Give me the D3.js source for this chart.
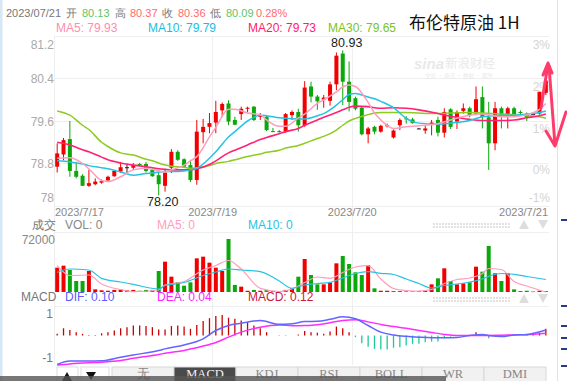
<!DOCTYPE html>
<html>
<head>
<meta charset="utf-8">
<script src="https://cdn.jsdelivr.net/npm/d3@7"></script>
<style>
body { margin: 0; background: #fff; }
svg { display: block; font-family: "Liberation Sans", Arial, sans-serif; }
</style>
</head>
<body>
<svg id="chart" width="567" height="381"></svg>
<script>
// hourly candles, 2023/7/17 - 2023/7/21
var openP = [
	78.74, 78.97, 79.26, 78.66, 78.57, 78.38, 78.41, 78.44, 78.48, 78.56,
	78.65, 78.73, 78.72, 78.79, 78.79, 78.68, 78.58, 78.38, 78.72, 79.02,
	78.88, 78.77, 78.49, 79.39, 79.49, 79.57, 79.80, 79.93, 79.62, 79.73,
	79.83, 79.87, 79.68, 79.68, 79.41, 79.41, 79.40, 79.71, 79.77, 79.52,
	80.25, 80.06, 80.00, 79.98, 80.29, 80.87, 80.34, 80.03, 79.85, 79.35,
	79.49, 79.40, 79.50, 79.29, 79.52, 79.65, 79.63, 79.46, 79.42, 79.54,
	79.62, 79.38, 79.82, 79.59, 79.79, 79.84, 79.74, 80.05, 79.67, 79.18,
	79.84, 79.69, 79.84, 79.77, 79.74, 79.73, 79.74, 80.13];
var highP = [
	79.18, 79.28, 79.60, 78.83, 78.60, 78.68, 78.52, 78.50, 78.57, 78.68,
	78.83, 78.80, 78.81, 78.81, 78.83, 78.72, 78.65, 78.70, 79.07, 79.05,
	78.90, 78.87, 79.62, 79.64, 79.75, 79.98, 79.95, 79.99, 79.68, 79.87,
	79.87, 79.88, 79.75, 79.70, 79.47, 79.43, 79.75, 79.80, 79.83, 80.35,
	80.34, 80.09, 80.09, 80.34, 80.89, 80.93, 80.72, 80.06, 79.88, 79.49,
	79.51, 79.53, 79.55, 79.44, 79.65, 79.69, 79.66, 79.47, 79.52, 79.62,
	79.68, 79.84, 79.84, 79.80, 79.93, 79.87, 80.25, 80.25, 79.96, 79.96,
	79.87, 79.87, 79.87, 79.80, 79.76, 79.74, 80.15, 80.37];
var lowP = [
	78.63, 78.86, 78.55, 78.52, 78.38, 78.36, 78.39, 78.42, 78.46, 78.55,
	78.62, 78.62, 78.68, 78.76, 78.63, 78.55, 78.20, 78.27, 78.62, 78.85,
	78.72, 78.45, 78.40, 79.18, 79.37, 79.37, 79.68, 79.52, 79.52, 79.62,
	79.76, 79.60, 79.62, 79.41, 79.39, 79.38, 79.38, 79.62, 79.40, 79.49,
	79.95, 79.81, 79.85, 79.89, 80.18, 79.90, 79.78, 79.80, 79.33, 79.18,
	79.35, 79.38, 79.48, 79.27, 79.43, 79.55, 79.55, 79.45, 79.36, 79.33,
	79.31, 79.29, 79.45, 79.45, 79.74, 79.67, 79.71, 79.46, 78.68, 79.05,
	79.46, 79.46, 79.70, 79.72, 79.60, 79.72, 79.72, 80.09];
var closeP = [
	78.99, 79.24, 78.66, 78.55, 78.38, 78.43, 78.46, 78.47, 78.55, 78.66,
	78.73, 78.73, 78.77, 78.78, 78.66, 78.56, 78.41, 78.63, 79.02, 78.87,
	78.74, 78.49, 79.40, 79.49, 79.56, 79.77, 79.92, 79.59, 79.53, 79.83,
	79.85, 79.62, 79.70, 79.43, 79.40, 79.40, 79.73, 79.77, 79.52, 80.23,
	80.06, 79.97, 80.04, 80.29, 80.83, 80.34, 79.96, 79.83, 79.35, 79.46,
	79.40, 79.51, 79.52, 79.42, 79.62, 79.64, 79.56, 79.46, 79.46, 79.57,
	79.38, 79.77, 79.49, 79.77, 79.84, 79.71, 80.01, 79.67, 79.18, 79.84,
	79.71, 79.84, 79.73, 79.76, 79.67, 79.73, 80.15, 80.36];
var volume = [
	29200, 31600, 26400, 13200, 13200, 25200, 3200, 2000, 1500, 2500,
	3000, 2000, 2500, 1500, 2500, 2500, 25200, 36400, 18400, 11600,
	7600, 11600, 40400, 42400, 35200, 29200, 25200, 63600, 8400, 6400,
	1500, 2500, 1500, 2500, 1000, 1000, 2500, 4400, 18400, 39600,
	20400, 9200, 9200, 11600, 34400, 43200, 33600, 23600, 20400, 32400,
	4400, 1500, 1500, 1000, 1000, 800, 800, 800, 1500, 9200,
	16400, 28400, 13200, 9200, 10400, 11600, 30400, 24400, 55200, 22400,
	13200, 22400, 3200, 1200, 1500, 500, 1500, 1000];
var macdBar = [
	0.03, 0.13, 0.10, 0.06, 0.03, 0.01, 0.01, 0.04, 0.06, 0.09,
	0.13, 0.15, 0.18, 0.18, 0.17, 0.15, 0.11, 0.11, 0.17, 0.18,
	0.16, 0.12, 0.19, 0.26, 0.31, 0.35, 0.37, 0.32, 0.30, 0.27,
	0.24, 0.18, 0.13, 0.06, 0.00, -0.01, -0.01, 0.00, 0.02, 0.08,
	0.06, 0.05, 0.03, 0.07, 0.16, 0.13, 0.06, -0.03, -0.14, -0.20,
	-0.24, -0.25, -0.25, -0.22, -0.21, -0.18, -0.15, -0.15, -0.12, -0.11,
	-0.11, -0.05, -0.02, -0.01, 0.01, 0.01, 0.06, 0.02, -0.05, -0.02,
	-0.01, 0.01, -0.01, 0.00, 0.01, 0.01, 0.05, 0.12];

// moving averages at these candle positions
var maIdx = [0, 2, 4, 5, 7, 8, 10, 12, 14, 15, 17, 18, 20, 21, 22, 24, 25, 27, 28, 30, 32, 33, 35, 36,
	38, 39, 41, 42, 44, 45, 46, 47, 49, 50, 51, 53, 55, 57, 60, 62, 65, 67, 70, 72, 74, 76, 77];
var ma5 = [78.90, 78.91, 78.80, 78.70, 78.48, 78.46, 78.55, 78.68, 78.71, 78.69, 78.64, 78.68, 78.77, 78.85,
	78.93, 79.30, 79.48, 79.82, 79.82, 79.75, 79.72, 79.62, 79.50, 79.50, 79.66, 79.73, 79.93, 80.00,
	80.15, 80.24, 80.28, 80.25, 79.95, 79.75, 79.62, 79.46, 79.49, 79.51, 79.55, 79.62, 79.71, 79.73,
	79.68, 79.68, 79.72, 79.82, 79.93];
var ma10 = [78.85, 78.83, 78.79, 78.76, 78.72, 78.70, 78.64, 78.58, 78.61, 78.62, 78.65, 78.65, 78.66, 78.68,
	78.71, 78.90, 79.02, 79.30, 79.40, 79.60, 79.71, 79.70, 79.66, 79.65, 79.64, 79.64, 79.70, 79.74,
	79.90, 80.00, 80.10, 80.12, 80.05, 80.02, 79.97, 79.85, 79.65, 79.56, 79.54, 79.56, 79.61, 79.68,
	79.71, 79.71, 79.73, 79.76, 79.79];
var ma20 = [79.20, 79.15, 79.06, 79.02, 78.92, 78.87, 78.81, 78.77, 78.74, 78.72, 78.69, 78.68, 78.68, 78.68,
	78.70, 78.78, 78.85, 79.00, 79.05, 79.15, 79.25, 79.29, 79.36, 79.40, 79.46, 79.52, 79.62, 79.67,
	79.76, 79.81, 79.86, 79.88, 79.87, 79.85, 79.84, 79.85, 79.84, 79.81, 79.74, 79.69, 79.63, 79.61,
	79.61, 79.62, 79.66, 79.70, 79.73];
var ma30 = [79.79, 79.71, 79.52, 79.44, 79.20, 79.12, 79.00, 78.96, 78.88, 78.85, 78.77, 78.75, 78.73, 78.71,
	78.72, 78.76, 78.80, 78.84, 78.87, 78.93, 78.98, 79.01, 79.05, 79.09, 79.14, 79.18, 79.27, 79.31,
	79.43, 79.52, 79.60, 79.65, 79.72, 79.75, 79.76, 79.76, 79.76, 79.75, 79.74, 79.75, 79.76, 79.75,
	79.73, 79.72, 79.70, 79.68, 79.65];

// volume MAs and MACD lines, read at these candle positions
var subIdx = [0, 2, 5, 7, 10, 12, 16, 17, 20, 23, 25, 27, 29, 32, 35, 37, 39, 41, 43, 45, 47, 49, 51, 53,
	55, 57, 59, 61, 63, 65, 67, 68, 70, 72, 74, 77];
var volMa5 = [31600, 19800, 20400, 9600, 3000, 400, 2400, 8400, 12600, 26400, 31800, 37800, 27600, 4400,
	600, 3600, 11400, 18000, 16400, 23400, 30000, 31600, 15600, 4200, 1800, 1200, 3000, 10200, 15000,
	16800, 22200, 28200, 27000, 12600, 7200, 0];
var volMa10 = [23600, 27600, 26400, 16400, 12000, 9200, 3600, 7800, 11400, 19800, 24000, 27600, 26400, 24400,
	13200, 4400, 8400, 10200, 11600, 16800, 22200, 24400, 22400, 21000, 15600, 10200, 4800, 7800, 9600,
	12000, 15600, 18800, 22200, 21200, 18600, 15000];
var dif = [-0.52, -0.46, -0.46, -0.455, -0.39, -0.35, -0.27, -0.24, -0.17, -0.06, 0.09, 0.18, 0.22, 0.27,
	0.20, 0.21, 0.25, 0.255, 0.29, 0.335, 0.30, 0.18, 0.06, 0.01, -0.015, -0.03, -0.04, -0.04, -0.035,
	0.00, 0.02, 0.00, -0.02, 0.01, 0.02, 0.10];
var dea = [-0.53, -0.51, -0.49, -0.48, -0.45, -0.41, -0.34, -0.32, -0.27, -0.19, -0.125, -0.03, 0.06, 0.15,
	0.19, 0.175, 0.18, 0.195, 0.23, 0.27, 0.285, 0.245, 0.20, 0.16, 0.13, 0.09, 0.055, 0.02, 0.00,
	0.00, 0.00, 0.00, 0.005, 0.01, 0.015, 0.04];

var priceTicks = [81.2, 80.4, 79.6, 78.8, 78];
var pctTicks = [3, 2, 1, 0, -1];
var basePrice = 78.68;
var dateLabels = ["2023/7/17", "2023/7/19", "2023/7/20", "2023/7/21"];
var dateIdx = [0, 25, 47, 77];
var volTickLabel = "72000";
var macdTickLabels = ["1", "-1"];
var changePct = "0.28%";
var tabs = ["无", "MACD", "KDJ", "RSI", "BOLL", "WR", "DMI"];

var svg = d3.select("#chart");
var left = 54, right = 549;
var priceTop = 36, priceBottom = 206;
var volTop = 232, volBottom = 292;
var macdTop = 306, macdBottom = 365;
var UP = "#f20000", DOWN = "#0ba70b", FLAT = "#222";
var grid = "#efefef";

var x = d3.scaleBand().domain(d3.range(closeP.length)).range([left, right]);
function cx(i) {
	return x(i) + x.bandwidth() / 2;
}
var y = d3.scaleLinear().domain([78, 81.2]).range([priceBottom, priceTop]);
var yv = d3.scaleLinear().domain([0, 72000]).range([volBottom, volTop]);
var ym = d3.scaleLinear().domain([-0.53, 0.53]).range([macdBottom, macdTop]);

function candleColor(i) {
	if (closeP[i] > openP[i]) return UP;
	if (closeP[i] < openP[i]) return DOWN;
	return FLAT;
}

function clampLabel(yy, top, bottom) {
	return Math.max(top + 13, Math.min(bottom - 4, yy + 4.5));
}

// frame
svg.append("rect").attr("x", 0).attr("y", 0).attr("width", 2.5).attr("height", 381).attr("fill", "#d6e7f6");
svg.append("line").attr("x1", 557.5).attr("x2", 557.5).attr("y1", 0).attr("y2", 381)
	.attr("stroke", "#dbe4ee");

// gridlines
var gg = svg.append("g").attr("stroke", grid).attr("shape-rendering", "crispEdges");
priceTicks.forEach(function(t) {
	gg.append("line").attr("x1", left).attr("x2", right).attr("y1", y(t)).attr("y2", y(t));
});
[volTop, macdTop].forEach(function(t) {
	gg.append("line").attr("x1", left).attr("x2", right).attr("y1", t).attr("y2", t);
});
gg.append("line").attr("x1", left + 0.5).attr("x2", left + 0.5).attr("y1", priceTop).attr("y2", macdBottom);
dateIdx.slice(1, -1).forEach(function(i) {
	gg.append("line").attr("x1", x(i)).attr("x2", x(i)).attr("y1", priceTop).attr("y2", macdBottom);
});

// watermark
var wm = svg.append("g").attr("fill", "#e9e9e9");
wm.append("text").attr("x", 414).attr("y", 69).attr("font-size", 15).attr("font-weight", "bold")
	.attr("font-style", "italic").text("sina");
wm.append("text").attr("x", 445).attr("y", 68).attr("font-size", 12.5)
	.attr("font-family", "Noto Sans CJK SC").text("新浪财经");
wm.append("text").attr("x", 425).attr("y", 78).attr("font-size", 5.5)
	.attr("font-family", "Noto Sans CJK SC").text("交易 · 资讯 · 数据 · 服务");

// price axis labels
var ax = svg.append("g").attr("font-size", 12);
priceTicks.forEach(function(t) {
	ax.append("text").attr("x", left).attr("y", clampLabel(y(t), priceTop, priceBottom))
		.attr("text-anchor", "end").attr("fill", "#aaa").text(t);
});
pctTicks.forEach(function(p) {
	var yy = y(basePrice * (1 + p / 100));
	ax.append("text").attr("x", 550).attr("y", clampLabel(yy, priceTop, priceBottom))
		.attr("text-anchor", "end").attr("fill", "#d4d4d4").text(p + "%");
});

// date labels
dateLabels.forEach(function(d, k) {
	var i = dateIdx[k];
	var anchor = "middle", xx = x(i);
	if (k == 0) { anchor = "start"; xx = left + 1; }
	if (k == dateLabels.length - 1) { anchor = "end"; xx = right - 1; }
	ax.append("text").attr("x", xx).attr("y", 216).attr("text-anchor", anchor)
		.attr("font-size", 11).attr("fill", "#888").text(d);
});

// candles
var cg = svg.append("g");
closeP.forEach(function(c, i) {
	var col = candleColor(i);
	cg.append("line").attr("x1", cx(i)).attr("x2", cx(i))
		.attr("y1", y(highP[i])).attr("y2", y(lowP[i]))
		.attr("stroke", col).attr("stroke-width", 1);
	var top = y(Math.max(openP[i], c));
	var h = Math.max(1, y(Math.min(openP[i], c)) - top);
	cg.append("rect").attr("x", cx(i) - 2).attr("y", top)
		.attr("width", 4).attr("height", h).attr("fill", col);
});

function drawLine(idx, vals, scale, color, width) {
	var line = d3.line()
		.x(function(d, k) { return cx(idx[k]); })
		.y(function(d) { return scale(d); })
		.curve(d3.curveMonotoneX);
	svg.append("path").attr("d", line(vals)).attr("fill", "none")
		.attr("stroke", color).attr("stroke-width", width);
}

drawLine(maIdx, ma30, y, "#8dcb21", 1.5);
drawLine(maIdx, ma20, y, "#ff2274", 1.6);
drawLine(maIdx, ma10, y, "#25c3e2", 1.5);
drawLine(maIdx, ma5, y, "#ff9dbd", 1.5);

// max / min marks
var hiI = d3.maxIndex(highP), loI = d3.minIndex(lowP);
svg.append("text").attr("x", cx(hiI) + 4).attr("y", y(highP[hiI]) - 3).attr("text-anchor", "middle")
	.attr("font-size", 12.5).attr("fill", "#222").text(highP[hiI].toFixed(2));
svg.append("text").attr("x", cx(loI) + 4).attr("y", y(lowP[loI]) + 11).attr("text-anchor", "middle")
	.attr("font-size", 12.5).attr("fill", "#222").text(lowP[loI].toFixed(2));

// header
var last = closeP.length - 1;
var head = [
	["2023/07/21", "#777", 6], ["开", "#777", 66], [openP[last].toFixed(2), "#62c462", 82],
	["高", "#777", 115], [highP[last].toFixed(2), "#ff6a6a", 130],
	["收", "#777", 162], [closeP[last].toFixed(2), "#ff6a6a", 178],
	["低", "#777", 210], [lowP[last].toFixed(2), "#62c462", 226], [changePct, "#ff6a6a", 256]];
head.forEach(function(h) {
	svg.append("text").attr("x", h[2]).attr("y", 17).attr("font-size", 11).attr("fill", h[1]).text(h[0]);
});
var maHead = [["MA5: " + ma5[ma5.length - 1].toFixed(2), "#ff8db0", 56],
	["MA10: " + ma10[ma10.length - 1].toFixed(2), "#18bde0", 148],
	["MA20: " + ma20[ma20.length - 1].toFixed(2), "#ff1a6e", 248],
	["MA30: " + ma30[ma30.length - 1].toFixed(2), "#7cc31a", 328]];
maHead.forEach(function(h) {
	svg.append("text").attr("x", h[2]).attr("y", 32).attr("font-size", 12).attr("fill", h[1]).text(h[0]);
});
svg.append("text").attr("x", 409).attr("y", 29).attr("font-size", 17).attr("fill", "#111")
	.attr("font-family", "Noto Sans CJK SC").text("布伦特原油 1H");

// volume panel
var volHead = [["成交", "#777", 32], ["VOL: 0", "#888", 65], ["MA5: 0", "#ff9dbd", 157], ["MA10: 0", "#25c3e2", 248]];
volHead.forEach(function(h) {
	svg.append("text").attr("x", h[2]).attr("y", 228.5).attr("font-size", 12).attr("fill", h[1]).text(h[0]);
});
svg.append("text").attr("x", left + 1).attr("y", volTop + 12).attr("text-anchor", "end")
	.attr("font-size", 12).attr("fill", "#888").text(volTickLabel);
volume.forEach(function(v, i) {
	svg.append("rect").attr("x", cx(i) - 2).attr("y", yv(v)).attr("width", 4)
		.attr("height", Math.max(0.5, volBottom - yv(v))).attr("fill", candleColor(i) == FLAT ? UP : candleColor(i));
});
drawLine(subIdx, volMa5, yv, "#ff9dbd", 1.2);
drawLine(subIdx, volMa10, yv, "#25c3e2", 1.2);

// macd panel
var macdHead = [["MACD", "#777", 21], ["DIF: " + dif[dif.length - 1].toFixed(2), "#5b5bff", 65],
	["DEA: " + dea[dea.length - 1].toFixed(2), "#ff22ff", 157],
	["MACD: " + macdBar[macdBar.length - 1].toFixed(2), "#cc1a3a", 248]];
macdHead.forEach(function(h) {
	svg.append("text").attr("x", h[2]).attr("y", 301).attr("font-size", 12).attr("fill", h[1]).text(h[0]);
});
svg.append("text").attr("x", 53).attr("y", macdTop + 12).attr("text-anchor", "end")
	.attr("font-size", 12).attr("fill", "#777").text(macdTickLabels[0]);
svg.append("text").attr("x", 53).attr("y", macdBottom - 3).attr("text-anchor", "end")
	.attr("font-size", 12).attr("fill", "#777").text(macdTickLabels[1]);
macdBar.forEach(function(v, i) {
	svg.append("line").attr("x1", cx(i)).attr("x2", cx(i)).attr("y1", ym(0)).attr("y2", ym(v))
		.attr("stroke", v >= 0 ? "#c80000" : "#1cc89c").attr("stroke-width", 1.3);
});
drawLine(subIdx, dea, ym, "#ff2cff", 1.5);
drawLine(subIdx, dif, ym, "#6464ff", 1.5);

// little controls on the label rows
[225, 299].forEach(function(ty) {
	for (var k = 0; k < 26; k++) {
		svg.append("rect").attr("x", 433 + k * 3).attr("y", ty - 2).attr("width", 2).attr("height", 2).attr("fill", "#e2e2e2");
		svg.append("rect").attr("x", 433 + k * 3).attr("y", ty + 1).attr("width", 2).attr("height", 2).attr("fill", "#e2e2e2");
	}
	svg.append("path").attr("d", "M519," + (ty + 4) + "L524," + (ty - 5) + "L529," + (ty + 4) + "Z").attr("fill", "#ddd");
	svg.append("path").attr("d", "M538," + (ty - 5) + "L548," + (ty - 5) + "L543," + (ty + 4) + "Z").attr("fill", "#ddd");
});

// red arrows drawn on the chart
var arrow = svg.append("g").attr("stroke", "#ff3b6c").attr("stroke-width", 3)
	.attr("fill", "none").attr("stroke-linecap", "round").attr("stroke-linejoin", "round");
arrow.append("path").attr("d", "M541,108L548,64M543,75L548,63L552,73");
arrow.append("path").attr("d", "M549,66L555,145M546,131L555,146L566,112");

// side marks of next panel
[219, 305, 325, 337, 348, 365].forEach(function(t) {
	svg.append("rect").attr("x", 561).attr("y", t).attr("width", 6).attr("height", 2).attr("fill", "#2a3a8a");
});

// tabs
svg.append("rect").attr("x", 57).attr("y", 367).attr("width", 21).attr("height", 16)
	.attr("fill", "#fff").attr("stroke", "#ddd");
svg.append("rect").attr("x", 81).attr("y", 367).attr("width", 28).attr("height", 16)
	.attr("fill", "#fff").attr("stroke", "#ddd");
svg.append("path").attr("d", "M62,381L67,372L72,381Z").attr("fill", "#111");
svg.append("path").attr("d", "M86,372L96,372L91,380Z").attr("fill", "#111");
var tab = d3.scaleBand().domain(tabs).range([112, 546]);
tabs.forEach(function(t) {
	var on = t == "MACD";
	svg.append("rect").attr("x", tab(t)).attr("y", 367).attr("width", tab.bandwidth()).attr("height", 16)
		.attr("fill", on ? "#4a4a4a" : "#f1f1f1").attr("stroke", "#d8d8d8");
	svg.append("text").attr("x", tab(t) + tab.bandwidth() / 2).attr("y", 378).attr("text-anchor", "middle")
		.attr("font-family", "Liberation Serif, serif").attr("font-size", 12.5)
		.attr("fill", on ? "#f4f4f4" : "#888").text(t);
});
svg.append("rect").attr("x", 0).attr("y", 376).attr("width", 446).attr("height", 5)
	.attr("fill", "#555").attr("opacity", 0.8);
</script>
</body>
</html>
